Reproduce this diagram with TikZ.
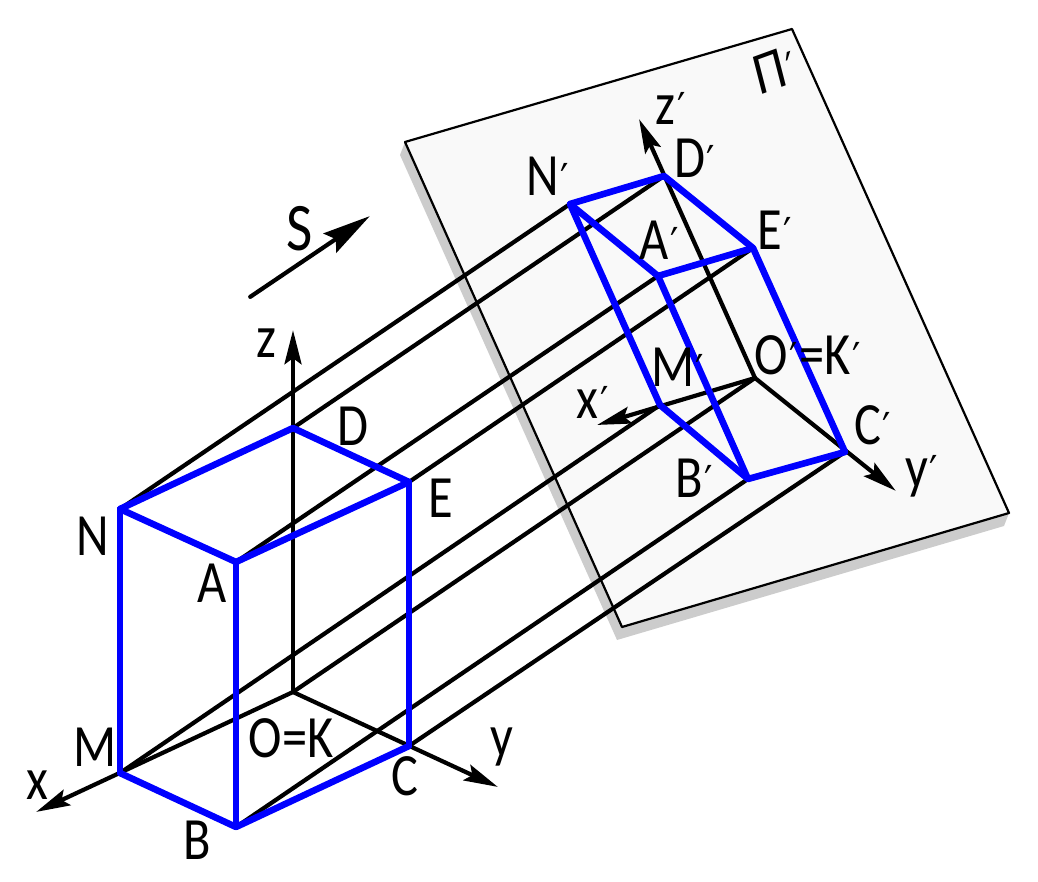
\documentclass[tikz,border=0pt]{standalone}
\usepackage{fontspec}
\setmainfont{Carlito}
\newfontfamily\primefont{DejaVu Sans}
\newcommand{\pr}{\kern2pt{\primefont\fontsize{44}{44}\selectfont ′}\kern1pt}
\usetikzlibrary{arrows.meta}
\definecolor{planefill}{gray}{0.975}
\definecolor{planeshadow}{gray}{0.8}
\tikzset{
    axisline/.style={draw, line width=4.2pt, line cap=round, -{Stealth[length=34pt,width=17pt,inset=6pt]}},
    viewline/.style={draw, line width=4.2pt, line cap=round, -{Stealth[length=48pt,width=23pt,inset=7pt]}},
    boxline/.style={draw=blue, line width=6.6pt, line cap=round},
    label/.style={font=\fontsize{60}{60}\selectfont, inner sep=0pt, xscale=0.84},
}
\begin{document}
\begin{tikzpicture}[x=1pt,y=-1pt]
        \useasboundingbox (0,0) rectangle (1038,882);
        % plane
        \fill[planeshadow] (400,155) -- (405,142) -- (1009,513) -- (1004,526) -- (617,640) -- cycle;
        \draw[fill=planefill, line width=2.2pt, line join=round] (405,142) -- (792,29) -- (1009,513) -- (622,627) -- cycle;
        \begin{scope}[every node/.style={inner sep=0pt, minimum size=0pt}]
            \node (O) at (293,692) {};
            \node (M) at (120,773) {};
            \node (B) at (236,827) {};
            \node (C) at (409,746) {};
            \node (N) at (120,509) {};
            \node (A) at (236,562) {};
            \node (E) at (409,482) {};
            \node (D) at (293,428) {};
            \node (O1) at (755,378) {};
            \node (M1) at (660,405) {};
            \node (B1) at (748,479) {};
            \node (C1) at (845,452) {};
            \node (N1) at (570,204) {};
            \node (A1) at (658,276) {};
            \node (E1) at (753,248) {};
            \node (D1) at (664,176) {};
            \node (xend) at (36,812) {};
            \node (yend) at (498,787) {};
            \node (zend) at (293,330) {};
            \node (x1end) at (597,425) {};
            \node (y1end) at (896,491) {};
            \node (z1end) at (639,119) {};
            \node (Sa) at (250,297) {};
            \node (Sb) at (370,216) {};
        \end{scope}
        \begin{scope}[every edge/.style={draw, line width=4.2pt}]
            \path
                (N) edge (N1)
                (D) edge (D1)
                (A) edge (A1)
                (E) edge (E1)
                (M) edge (M1)
                (O) edge (O1)
                (B) edge (B1)
                (C) edge (C1);
        \end{scope}
        \begin{scope}[every edge/.style={axisline}]
            \path
                (O) edge (xend)
                (O) edge (yend)
                (O) edge (zend)
                (O1) edge (x1end)
                (O1) edge (y1end)
                (O1) edge (z1end);
        \end{scope}
        \path (Sa) edge[viewline] (Sb);
        \begin{scope}[every edge/.style={boxline}]
            \path
                (N) edge (A)
                (A) edge (E)
                (E) edge (D)
                (D) edge (N)
                (N) edge (M)
                (A) edge (B)
                (E) edge (C)
                (M) edge (B)
                (B) edge (C);
            \path
                (N1) edge (A1)
                (A1) edge (E1)
                (E1) edge (D1)
                (D1) edge (N1)
                (N1) edge (M1)
                (A1) edge (B1)
                (E1) edge (C1)
                (M1) edge (B1)
                (B1) edge (C1);
        \end{scope}
        \begin{scope}[every node/.style={label}]
            \node (lN) at (93,536) {N};
            \node (lA) at (212,583) {A};
            \node (lD) at (353,426) {D};
            \node (lE) at (441,498) {E};
            \node (lM) at (95,747) {M};
            \node (lB) at (197,840) {B};
            \node (lC) at (405,776) {C};
            \node (lO) at (291,738) {O=K};
            \node (lx) at (37,785) {x};
            \node (ly) at (502,747) {y};
            \node (lz) at (266,343) {z};
            \node[font=\fontsize{68}{68}\selectfont] (lS) at (300,229) {S};
            \node (lN1) at (548,176) {N\pr};
            \node (lD1) at (695,158) {D\pr};
            \node (lA1) at (660,240) {A\pr};
            \node (lE1) at (775,230) {E\pr};
            \node (lM1) at (678,367) {M\pr};
            \node (lO1) at (808,355) {O\pr=K\pr};
            \node (lC1) at (873,425) {C\pr};
            \node (lB1) at (695,478) {B\pr};
            \node (lx1) at (593,402) {x\pr};
            \node (ly1) at (922,476) {y\pr};
            \node (lz1) at (671,108) {z\pr};
            \node[rotate=17] (lP1) at (775,70) {Π\pr};
        \end{scope}
    \end{tikzpicture}
\end{document}
